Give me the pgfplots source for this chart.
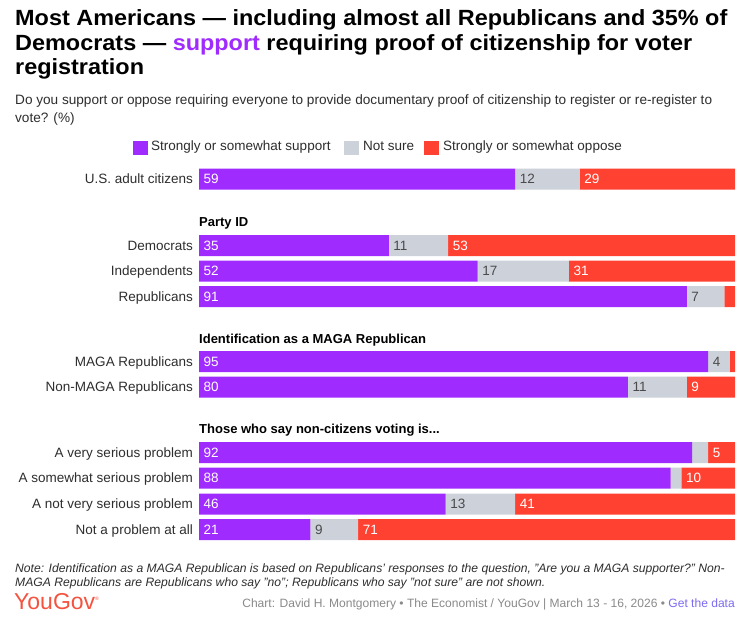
\documentclass[border=0pt]{standalone}
\usepackage{fontspec}
\setmainfont{Liberation Sans}
\newfontfamily\titlefont{Liberation Sans Bold}[FakeStretch=1.065]
\newfontfamily\boldfont{Liberation Sans Bold}
\usepackage{pgfplots}
\pgfplotsset{compat=1.18}
\definecolor{sup}{HTML}{A02BFE}
\definecolor{ns}{HTML}{CDD1DA}
\definecolor{opp}{HTML}{FF4131}
\definecolor{txt}{HTML}{2E2E2E}
\definecolor{gtxt}{HTML}{4A4A4A}
\definecolor{foot}{HTML}{8A8A8A}
\definecolor{link}{HTML}{7C6CF2}
\definecolor{yg}{HTML}{F4533F}
\newcommand\body{\fontsize{13.5}{16}\selectfont}
\begin{document}
\begin{tikzpicture}
\path[fill=white] (0pt,0pt) rectangle (746pt,-617pt);
% title
\begin{scope}[every node/.style={anchor=base west, inner sep=0pt}]
\node at (15pt,-26pt) {\titlefont\fontsize{22}{24}\selectfont Most Americans — including almost all Republicans and 35\% of};
\node at (15pt,-50.5pt) {\titlefont\fontsize{22}{24}\selectfont Democrats — \textcolor{sup}{support} requiring proof of citizenship for voter};
\node at (15pt,-75pt) {\titlefont\fontsize{22}{24}\selectfont registration};
\node[text=txt] at (15pt,-105pt) {\fontsize{13.6}{16}\selectfont Do you support or oppose requiring everyone to provide documentary proof of citizenship to register or re-register to};
\node[text=txt] at (15pt,-123pt) {\fontsize{13.6}{16}\selectfont vote? (\%)};
% legend
\fill[sup] (133pt,-141pt) rectangle (148pt,-155pt);
\node[text=txt] at (151pt,-151pt) {\body Strongly or somewhat support};
\fill[ns] (344pt,-141pt) rectangle (359pt,-155pt);
\node[text=txt] at (363pt,-151pt) {\body Not sure};
\fill[opp] (424pt,-141pt) rectangle (439pt,-155pt);
\node[text=txt] at (443pt,-151pt) {\body Strongly or somewhat oppose};
% group headers
\node[text=black] at (199pt,-226.5pt) {\boldfont\fontsize{13}{15}\selectfont Party ID};
\node[text=black] at (199pt,-343pt) {\boldfont\fontsize{13}{15}\selectfont Identification as a MAGA Republican};
\node[text=black] at (199pt,-433.5pt) {\boldfont\fontsize{13}{15}\selectfont Those who say non-citizens voting is...};
% note
\node[text=txt] at (15pt,-572pt) {\fontsize{12.15}{14}\selectfont\itshape Note: Identification as a MAGA Republican is based on Republicans' responses to the question, "Are you a MAGA supporter?" Non-};
\node[text=txt] at (15pt,-586pt) {\fontsize{12.15}{14}\selectfont\itshape MAGA Republicans are Republicans who say "no"; Republicans who say "not sure" are not shown.};
\node[text=yg] at (14pt,-609pt) {\fontsize{23}{24}\selectfont YouGov\raisebox{9pt}{\fontsize{5}{5}\selectfont ®}};
\end{scope}
\node[anchor=base east, inner sep=0pt, text=foot] at (735pt,-607pt) {\fontsize{12.05}{14}\selectfont Chart: David H. Montgomery • The Economist / YouGov | March 13 - 16, 2026 • \textcolor{link}{Get the data}};
% category labels
\begin{scope}[every node/.style={anchor=base east, inner sep=0pt, text=txt, font=\body}]
\node at (193pt,-183.7pt) {U.S. adult citizens};
\node at (193pt,-250.2pt) {Democrats};
\node at (193pt,-275.7pt) {Independents};
\node at (193pt,-301.2pt) {Republicans};
\node at (193pt,-366.2pt) {MAGA Republicans};
\node at (193pt,-391.7pt) {Non-MAGA Republicans};
\node at (193pt,-457.2pt) {A very serious problem};
\node at (193pt,-482.7pt) {A somewhat serious problem};
\node at (193pt,-508.7pt) {A not very serious problem};
\node at (193pt,-534.2pt) {Not a problem at all};
\end{scope}
% bars
\begin{axis}[at={(199pt,-166pt)}, anchor=north west, scale only axis,
  width=536pt, height=377pt, xmin=0, xmax=100, ymin=166, ymax=543,
  y dir=reverse, axis lines=none, xbar stacked, bar width=21pt, clip=false]
\addplot[fill=sup, draw=none] coordinates {(59,179) (35.4,245.5) (52,271) (91,296.5) (95,361.5) (80,387) (92,452.5) (88,478) (46,504) (20.8,529.5)};
\addplot[fill=ns, draw=none] coordinates {(12,179) (11.1,245.5) (17,271) (7,296.5) (4,361.5) (11,387) (3,452.5) (2,478) (13,504) (8.9,529.5)};
\addplot[fill=opp, draw=none] coordinates {(29,179) (53.5,245.5) (31,271) (2,296.5) (1,361.5) (9,387) (5,452.5) (10,478) (41,504) (70.3,529.5)};
\end{axis}
% value labels
\begin{axis}[at={(199pt,-166pt)}, anchor=north west, scale only axis,
  width=536pt, height=377pt, xmin=0, xmax=100, ymin=166, ymax=543,
  y dir=reverse, axis lines=none, clip=false,
  every axis plot/.append style={draw=none, mark=none, nodes near coords, point meta=explicit symbolic,
    nodes near coords style={anchor=west, xshift=4.5pt, inner sep=0pt, font=\body}}]
\addplot[nodes near coords style={text=white}] coordinates {(0,179)[59] (0,245.5)[35] (0,271)[52] (0,296.5)[91] (0,361.5)[95] (0,387)[80] (0,452.5)[92] (0,478)[88] (0,504)[46] (0,529.5)[21]};
\addplot[nodes near coords style={text=gtxt}] coordinates {(59,179)[12] (35.4,245.5)[11] (52,271)[17] (91,296.5)[7] (95,361.5)[4] (80,387)[11] (46,504)[13] (20.8,529.5)[9]};
\addplot[nodes near coords style={text=white}] coordinates {(71,179)[29] (46.5,245.5)[53] (69,271)[31] (91,387)[9] (95,452.5)[5] (90,478)[10] (59,504)[41] (29.7,529.5)[71]};
\end{axis}
\end{tikzpicture}
\end{document}
